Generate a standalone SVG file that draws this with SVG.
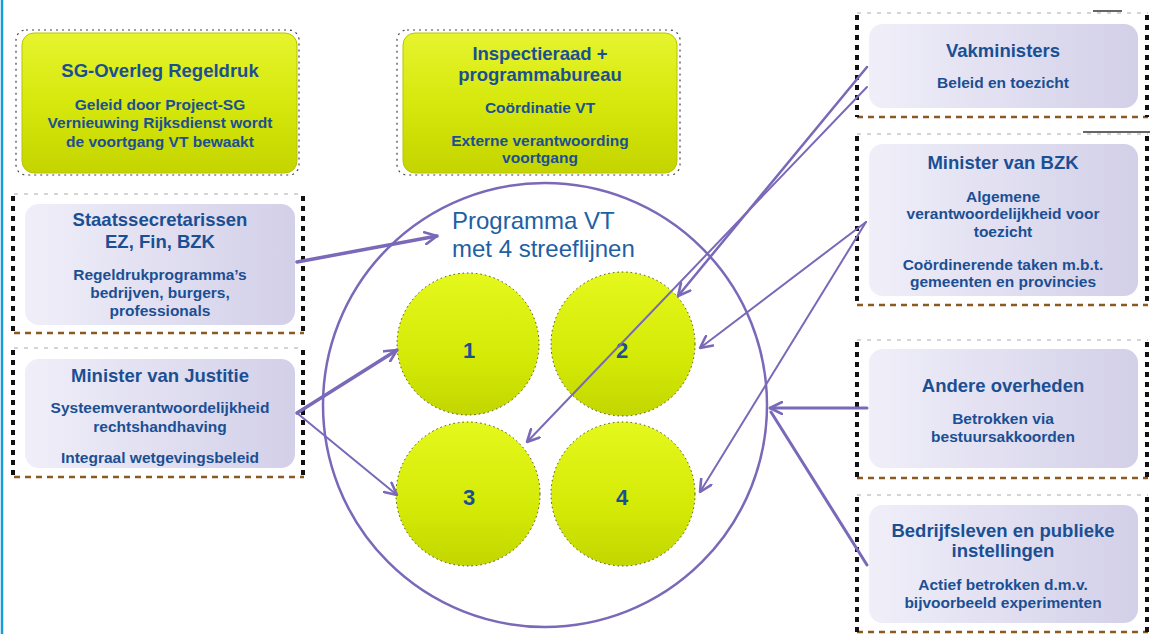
<svg xmlns="http://www.w3.org/2000/svg" width="1154" height="634" viewBox="0 0 1154 634">
<defs>
<linearGradient id="yel" x1="0" y1="0" x2="0" y2="1">
<stop offset="0" stop-color="#e6f42e"/>
<stop offset="0.5" stop-color="#d6e80c"/>
<stop offset="1" stop-color="#c4d400"/>
</linearGradient>
<linearGradient id="ball" x1="0" y1="0" x2="0" y2="1">
<stop offset="0" stop-color="#e4f81c"/>
<stop offset="0.6" stop-color="#d4ea06"/>
<stop offset="1" stop-color="#c2d600"/>
</linearGradient>
<linearGradient id="lav" x1="0" y1="0" x2="1" y2="0">
<stop offset="0" stop-color="#f0eff9"/>
<stop offset="1" stop-color="#d2cfe8"/>
</linearGradient>
<marker id="ah" viewBox="0 0 14 14" refX="13" refY="7" markerWidth="14" markerHeight="14" markerUnits="userSpaceOnUse" orient="auto">
<path d="M1,1 L13,7 L1,13" fill="none" stroke="#7a68b8" stroke-width="2.6" stroke-linecap="round" stroke-linejoin="round"/>
</marker>
<style>
.t{font-family:"Liberation Sans",Arial,sans-serif;font-weight:bold;fill:#1b4f93;text-anchor:middle}
.h{font-size:18.5px}
.s{font-size:15.5px}
.yb{fill:url(#yel);stroke:#b9c400;stroke-width:1}
.yf{fill:none;stroke:#444;stroke-width:1.2;stroke-dasharray:2 4}
.lb{fill:url(#lav);stroke:#ffffff;stroke-width:4}
.fs{stroke:#111;stroke-width:4;stroke-dasharray:5 5;fill:none}
.ft{stroke:#aaa;stroke-width:1;stroke-dasharray:4 6;fill:none}
.fb{stroke:#8a5a20;stroke-width:2.5;stroke-dasharray:6 5;fill:none}
.c{fill:none;stroke:#7a68b8;stroke-linecap:round}
.ball{fill:url(#ball);stroke:#4a4a10;stroke-width:1;stroke-dasharray:1.5 3}
.num{font-family:"Liberation Sans",Arial,sans-serif;font-weight:bold;font-size:22px;fill:#1b4f93;text-anchor:middle}
</style>
</defs>
<rect width="1154" height="634" fill="#ffffff"/>
<line x1="2" y1="0" x2="2" y2="634" stroke="#1a9bd7" stroke-width="2.5"/>
<line x1="1093" y1="11" x2="1122" y2="11" stroke="#333" stroke-width="1.5"/>
<line x1="1083" y1="132" x2="1150" y2="132" stroke="#333" stroke-width="1.5"/>

<g id="sg-overleg">
<rect class="yf" x="16" y="30" width="283" height="145" rx="10"/>
<rect class="yb" x="22" y="33" width="275" height="140" rx="12"/>
<text class="t h" x="160" y="77">SG-Overleg Regeldruk</text>
<text class="t s" x="160" y="110">Geleid door Project-SG</text>
<text class="t s" x="160" y="128">Vernieuwing Rijksdienst wordt</text>
<text class="t s" x="160" y="147">de voortgang VT bewaakt</text>
</g>

<g id="inspectieraad">
<rect class="yf" x="397" y="30" width="283" height="145" rx="10"/>
<rect class="yb" x="403" y="33" width="274" height="140" rx="12"/>
<text class="t h" x="540" y="60">Inspectieraad +</text>
<text class="t h" x="540" y="81">programmabureau</text>
<text class="t s" x="540" y="113">Coördinatie VT</text>
<text class="t s" x="540" y="146">Externe verantwoording</text>
<text class="t s" x="540" y="163">voortgang</text>
</g>

<g id="staatssecretarissen">
<line class="ft" x1="14" y1="194" x2="304" y2="194"/>
<line class="fb" x1="14" y1="333" x2="304" y2="333"/>
<line class="fs" x1="13" y1="196" x2="13" y2="333"/>
<line class="fs" x1="303" y1="196" x2="303" y2="333"/>
<rect class="lb" x="23" y="202" width="274" height="125" rx="16"/>
<text class="t h" x="160" y="226">Staatssecretarissen</text>
<text class="t h" x="160" y="248">EZ, Fin, BZK</text>
<text class="t s" x="160" y="280">Regeldrukprogramma’s</text>
<text class="t s" x="160" y="298">bedrijven, burgers,</text>
<text class="t s" x="160" y="316">professionals</text>
</g>

<g id="justitie">
<line class="ft" x1="14" y1="348" x2="304" y2="348"/>
<line class="fb" x1="14" y1="477" x2="304" y2="477"/>
<line class="fs" x1="13" y1="350" x2="13" y2="477"/>
<line class="fs" x1="303" y1="350" x2="303" y2="477"/>
<rect class="lb" x="23" y="357" width="274" height="113" rx="16"/>
<text class="t h" x="160" y="382">Minister van Justitie</text>
<text class="t s" x="160" y="413">Systeemverantwoordelijkheid</text>
<text class="t s" x="160" y="432">rechtshandhaving</text>
<text class="t s" x="160" y="463">Integraal wetgevingsbeleid</text>
</g>

<g id="vakministers">
<line class="ft" x1="857" y1="13" x2="1148" y2="13"/>
<line class="fb" x1="857" y1="117" x2="1148" y2="117"/>
<line class="fs" x1="857" y1="15" x2="857" y2="117"/>
<line class="fs" x1="1147" y1="15" x2="1147" y2="117"/>
<rect class="lb" x="867" y="22" width="273" height="88" rx="16"/>
<text class="t h" x="1003" y="57">Vakministers</text>
<text class="t s" x="1003" y="88">Beleid en toezicht</text>
</g>

<g id="bzk">
<line class="ft" x1="857" y1="134" x2="1148" y2="134"/>
<line class="fb" x1="857" y1="305" x2="1148" y2="305"/>
<line class="fs" x1="857" y1="136" x2="857" y2="305"/>
<line class="fs" x1="1147" y1="136" x2="1147" y2="305"/>
<rect class="lb" x="867" y="142" width="273" height="156" rx="16"/>
<text class="t h" x="1003" y="169">Minister van BZK</text>
<text class="t s" x="1003" y="202">Algemene</text>
<text class="t s" x="1003" y="219">verantwoordelijkheid voor</text>
<text class="t s" x="1003" y="237">toezicht</text>
<text class="t s" x="1003" y="270">Coördinerende taken m.b.t.</text>
<text class="t s" x="1003" y="287">gemeenten en provincies</text>
</g>

<g id="andere-overheden">
<line class="ft" x1="857" y1="340" x2="1148" y2="340"/>
<line class="fb" x1="857" y1="478" x2="1148" y2="478"/>
<line class="fs" x1="857" y1="342" x2="857" y2="478"/>
<line class="fs" x1="1147" y1="342" x2="1147" y2="478"/>
<rect class="lb" x="867" y="347" width="273" height="123" rx="16"/>
<text class="t h" x="1003" y="392">Andere overheden</text>
<text class="t s" x="1003" y="424">Betrokken via</text>
<text class="t s" x="1003" y="442">bestuursakkoorden</text>
</g>

<g id="bedrijfsleven">
<line class="ft" x1="857" y1="495" x2="1148" y2="495"/>
<line class="fb" x1="857" y1="632" x2="1148" y2="632"/>
<line class="fs" x1="857" y1="497" x2="857" y2="634"/>
<line class="fs" x1="1147" y1="497" x2="1147" y2="634"/>
<rect class="lb" x="867" y="503" width="273" height="122" rx="16"/>
<text class="t h" x="1003" y="537">Bedrijfsleven en publieke</text>
<text class="t h" x="1003" y="557">instellingen</text>
<text class="t s" x="1003" y="590">Actief betrokken d.m.v.</text>
<text class="t s" x="1003" y="608">bijvoorbeeld experimenten</text>
</g>

<g id="programma-vt">
<circle cx="545" cy="405" r="222" fill="none" stroke="#7a68b8" stroke-width="2.5"/>
<text x="452" y="229" font-family="Liberation Sans, Arial, sans-serif" font-size="24" fill="#1f5fa3">Programma VT</text>
<text x="452" y="257" font-family="Liberation Sans, Arial, sans-serif" font-size="24" fill="#1f5fa3">met 4 streeflijnen</text>
</g>
<g id="streeflijn-1"><circle class="ball" cx="468" cy="344" r="71"/><text class="num" x="469" y="358">1</text></g>
<g id="streeflijn-2"><circle class="ball" cx="623" cy="344" r="72"/><text class="num" x="622" y="358">2</text></g>
<g id="streeflijn-3"><circle class="ball" cx="468" cy="494" r="72"/><text class="num" x="469" y="505">3</text></g>
<g id="streeflijn-4"><circle class="ball" cx="623" cy="494" r="72"/><text class="num" x="622" y="505">4</text></g>

<g id="connectors">
<line class="c" x1="297" y1="262" x2="437" y2="236" stroke-width="3.5" marker-end="url(#ah)"/>
<line class="c" x1="297" y1="413" x2="397" y2="350" stroke-width="3.5" marker-end="url(#ah)"/>
<line class="c" x1="297" y1="413" x2="397" y2="495" stroke-width="2" marker-end="url(#ah)"/>
<line class="c" x1="867" y1="67" x2="678" y2="296" stroke-width="2.5" marker-end="url(#ah)"/>
<line class="c" x1="867" y1="87" x2="527" y2="442" stroke-width="2" marker-end="url(#ah)"/>
<line class="c" x1="866" y1="222" x2="700" y2="348" stroke-width="2" marker-end="url(#ah)"/>
<line class="c" x1="866" y1="222" x2="700" y2="492" stroke-width="2" marker-end="url(#ah)"/>
<line class="c" x1="867" y1="408" x2="770" y2="408" stroke-width="3" marker-end="url(#ah)"/>
<line class="c" x1="867" y1="565" x2="771" y2="412" stroke-width="3"/>
</g>
</svg>
